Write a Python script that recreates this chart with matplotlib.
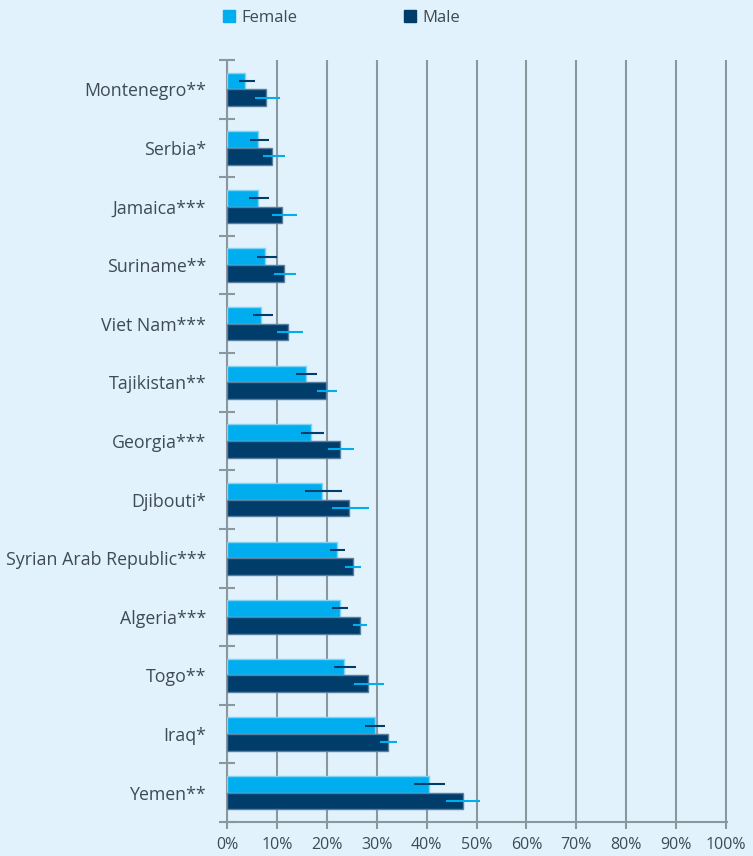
import matplotlib.pyplot as plt
from matplotlib.patches import Patch
import numpy as np

plt.rcParams['font.family'] = ['Open Sans', 'DejaVu Sans']

countries = ['Montenegro**', 'Serbia*', 'Jamaica***', 'Suriname**', 'Viet Nam***',
             'Tajikistan**', 'Georgia***', 'Djibouti*', 'Syrian Arab Republic***',
             'Algeria***', 'Togo**', 'Iraq*', 'Yemen**']
female = [3.7, 6.3, 6.2, 7.7, 6.9, 15.9, 16.9, 19.0, 22.1, 22.6, 23.5, 29.6, 40.4]
female_lo = [2.4, 4.6, 4.5, 6.0, 5.3, 13.8, 14.8, 15.6, 20.7, 21.1, 21.4, 27.7, 37.5]
female_hi = [5.6, 8.5, 8.5, 10.0, 9.2, 18.0, 19.4, 23.0, 23.6, 24.2, 25.8, 31.6, 43.6]
male = [7.9, 9.1, 11.1, 11.5, 12.3, 19.9, 22.7, 24.5, 25.2, 26.6, 28.3, 32.3, 47.3]
male_lo = [5.7, 7.2, 9.0, 9.5, 10.1, 18.0, 20.3, 21.1, 23.7, 25.2, 25.4, 30.6, 43.8]
male_hi = [10.7, 11.7, 14.1, 13.9, 15.3, 22.1, 25.4, 28.4, 26.8, 28.1, 31.4, 34.1, 50.8]
xticks = list(range(0, 101, 10))

bg = '#E1F2FC'
c_female = '#00AEEF'
c_male = '#003D6B'
grey = '#8A979F'
txt = '#3F4A54'

fig = plt.figure(figsize=(7.53, 8.56), dpi=100, facecolor=bg)
ax = fig.add_axes([227 / 753, 34 / 856, 500 / 753, 762 / 856], facecolor=bg)

y = np.arange(len(countries))
h = 0.285
f = np.array(female)
m = np.array(male)
ax.barh(y - h / 2, f, height=h, color=c_female, edgecolor='#7FD3F5', linewidth=1, zorder=3)
ax.barh(y + h / 2, m, height=h, color=c_male, edgecolor='#5A7F9E', linewidth=1, zorder=3)
ax.errorbar(f, y - h / 2, xerr=[f - np.array(female_lo), np.array(female_hi) - f],
            fmt='none', ecolor=c_male, elinewidth=1.5, capsize=0, zorder=4)
ax.errorbar(m, y + h / 2, xerr=[m - np.array(male_lo), np.array(male_hi) - m],
            fmt='none', ecolor=c_female, elinewidth=1.5, capsize=0, zorder=4)

ax.set_xlim(0, 100.2)
ax.set_ylim(len(countries) - 0.5, -0.5)
ax.set_xticks(xticks)
ax.set_xticklabels([f'{t}%' for t in xticks], fontsize=11.5, color=txt)
ax.set_yticks(y)
ax.set_yticklabels(countries, fontsize=12.8, color=txt)
ax.set_yticks(np.arange(-0.5, len(countries), 1), minor=True)
ax.tick_params(axis='y', which='major', length=0, pad=15)
ax.tick_params(axis='y', which='minor', length=12, direction='inout', color=grey, width=1.5)
ax.tick_params(axis='x', length=5, color=grey, width=1.5, pad=6)
ax.grid(axis='x', color=grey, linewidth=1.5, zorder=1)
for s in ['top', 'right']:
    ax.spines[s].set_visible(False)
for s in ['left', 'bottom']:
    ax.spines[s].set_color(grey)
    ax.spines[s].set_linewidth(1.5)

handles = [Patch(color=c_female, label='Female'), Patch(color=c_male, label='Male')]
fig.legend(handles=handles, loc='upper left', bbox_to_anchor=(208 / 753, 1.006), ncol=2,
           frameon=False, fontsize=12, labelcolor=txt, handlelength=0.7, handleheight=0.7,
           handletextpad=0.4, columnspacing=6.4)

fig.savefig('out.png', dpi=100, facecolor=bg)
